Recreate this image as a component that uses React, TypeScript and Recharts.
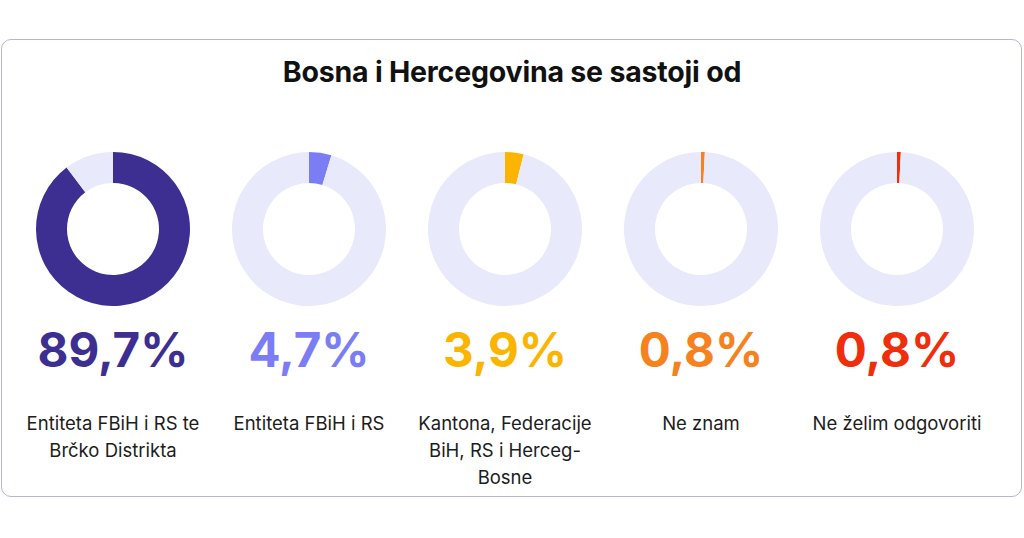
import React from "react";
import { PieChart, Pie, Cell } from "recharts";

const title = "Bosna i Hercegovina se sastoji od";
const categories = [
  "Entiteta FBiH i RS te\nBrčko Distrikta",
  "Entiteta FBiH i RS",
  "Kantona, Federacije\nBiH, RS i Herceg-\nBosne",
  "Ne znam",
  "Ne želim odgovoriti",
];
const values = [89.7, 4.7, 3.9, 0.8, 0.8];
const valueLabels = ["89,7%", "4,7%", "3,9%", "0,8%", "0,8%"];
const colors = ["#3d2f92", "#7b7df5", "#fbb500", "#f5821f", "#ee2e0c"];
const trackColor = "#e8e9fa";

const W = 1024;
const H = 538;
const CX0 = 113;
const STEP = 196;
const CY = 229;

export default function App() {
  return (
    <div
      style={{
        position: "fixed",
        left: 0,
        top: 0,
        width: W,
        height: H,
        background: "#ffffff",
        fontFamily: "Inter, 'Noto Sans', sans-serif",
        overflow: "hidden",
      }}
    >
      <div
        style={{
          position: "absolute",
          left: 1,
          top: 39,
          width: 1021,
          height: 458,
          border: "1px solid #b7b5d2",
          borderRadius: 10,
          boxSizing: "border-box",
        }}
      />
      <div
        style={{
          position: "absolute",
          left: 0,
          top: 54,
          width: W,
          textAlign: "center",
          fontSize: 28.5,
          fontWeight: 700,
          color: "#111111",
          letterSpacing: -0.2,
          lineHeight: "36px",
        }}
      >
        {title}
      </div>
      <div style={{ position: "absolute", left: 0, top: 0 }}>
        <PieChart width={W} height={H} margin={{ top: 0, right: 0, bottom: 0, left: 0 }}>
          {values.map((v, i) => (
            <Pie
              key={i}
              data={[
                { name: categories[i], value: v },
                { name: "rest", value: 100 - v },
              ]}
              dataKey="value"
              cx={CX0 + i * STEP}
              cy={CY}
              innerRadius={46}
              outerRadius={77}
              startAngle={90}
              endAngle={-270}
              stroke="none"
              isAnimationActive={false}
            >
              <Cell fill={colors[i]} />
              <Cell fill={trackColor} />
            </Pie>
          ))}
        </PieChart>
      </div>
      {values.map((v, i) => (
        <div
          key={"v" + i}
          style={{
            position: "absolute",
            left: CX0 + i * STEP - 98,
            width: 196,
            top: 323,
            textAlign: "center",
            fontSize: 47.5,
            fontWeight: 700,
            color: colors[i],
            lineHeight: "54px",
          }}
        >
          {valueLabels[i]}
        </div>
      ))}
      {categories.map((c, i) => (
        <div
          key={"c" + i}
          style={{
            position: "absolute",
            left: CX0 + i * STEP - 98,
            width: 196,
            top: 410,
            textAlign: "center",
            fontSize: 18.5,
            color: "#1c1c1c",
            lineHeight: "27px",
            whiteSpace: "pre-line",
          }}
        >
          {c}
        </div>
      ))}
    </div>
  );
}
